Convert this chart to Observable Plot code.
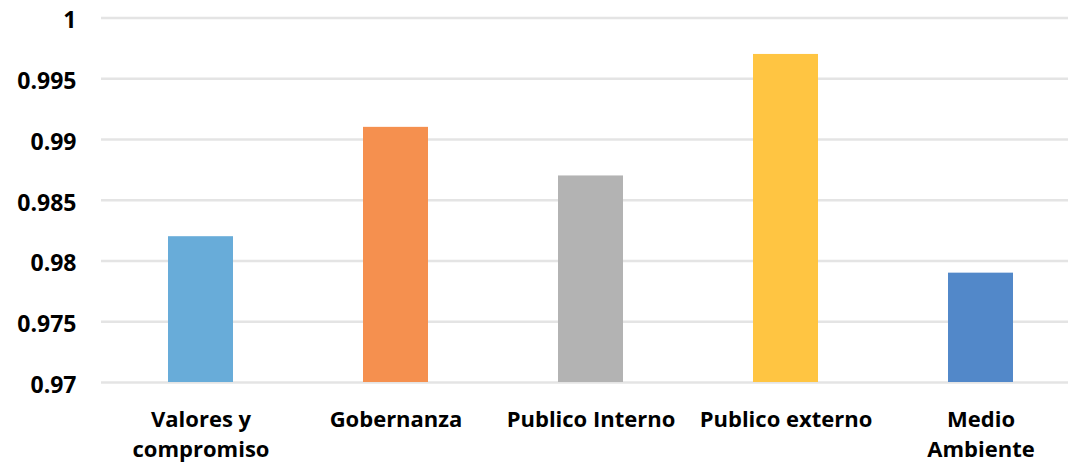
<!DOCTYPE html>
<html>
<head>
<meta charset="utf-8">
<script src="https://cdn.jsdelivr.net/npm/d3@7"></script>
<script src="https://cdn.jsdelivr.net/npm/@observablehq/plot@0.6"></script>
<style>
  html, body { margin: 0; padding: 0; background: #fff; }
  #chart svg { display: block; }
</style>
</head>
<body>
<div id="chart"></div>
<script>
const categories = ["Valores y\ncompromiso", "Gobernanza", "Publico Interno", "Publico externo", "Medio\nAmbiente"];
const values = [0.982, 0.991, 0.987, 0.997, 0.979];
const colors = ["#68acd9", "#f5904f", "#b3b3b3", "#ffc542", "#5288c9"];
const yTicks = [0.97, 0.975, 0.98, 0.985, 0.99, 0.995, 1];
const yTickLabels = ["0.97", "0.975", "0.98", "0.985", "0.99", "0.995", "1"];

const data = categories.map((c, i) => ({category: c, value: values[i], color: colors[i]}));

const chart = Plot.plot({
  width: 1068,
  height: 466,
  marginTop: 17.5,
  marginBottom: 84,
  marginLeft: 101,
  marginRight: 0,
  style: {fontFamily: "'Open Sans', Lato, sans-serif", fontWeight: "bold", fontSize: "23px", color: "#000", background: "#fff"},
  x: {domain: categories, range: [101, 1080], paddingInner: 0.668, paddingOuter: 0.334, label: null},
  y: {domain: [0.97, 1], label: null},
  marks: [
    Plot.ruleY(yTicks, {stroke: "#e4e4e4", strokeWidth: 2.5}),
    Plot.barY(data, {x: "category", y1: 0.97, y2: "value", fill: "color"}),
    Plot.axisY({ticks: yTicks, tickFormat: (d) => yTickLabels[yTicks.indexOf(d)], tickSize: 0, tickPadding: 25, dy: 3, fontSize: 23, fontWeight: "bold", fill: "#000"}),
    Plot.axisX({tickSize: 0, tickPadding: 23, fontSize: 22, fontWeight: "bold", fill: "#000", lineHeight: 1.36})
  ]
});
document.getElementById("chart").appendChild(chart);
</script>
</body>
</html>
